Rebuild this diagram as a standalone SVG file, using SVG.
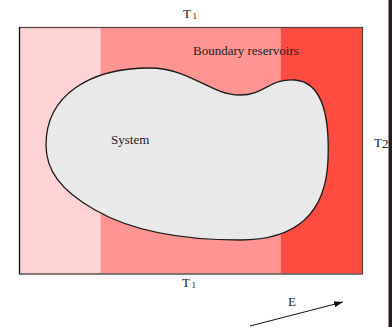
<svg xmlns="http://www.w3.org/2000/svg" width="392" height="327" viewBox="0 0 392 327">
<style>
.t{font-family:"Liberation Serif","Times New Roman",serif;font-size:13px;fill:#222}
.sub{font-size:9px}
</style>
<defs>
<marker id="ah" markerWidth="10" markerHeight="8" refX="9" refY="4" orient="auto" markerUnits="userSpaceOnUse">
<path d="M0,1 L9,4 L0,7 Z" fill="#111"/>
</marker>
</defs>
<rect width="392" height="327" fill="#fff"/>
<g id="reservoirs">
<rect x="19.5" y="27.5" width="81" height="246.5" fill="#FFD3D3"/>
<rect x="100.5" y="27.5" width="180" height="246.5" fill="#FF9490"/>
<rect x="280.5" y="27.5" width="82" height="246.5" fill="#FF4B40"/>
<rect x="19.5" y="27.5" width="343" height="246.5" fill="none" stroke="#5a4040" stroke-width="1.2"/>
<line x1="19.5" y1="27" x2="19.5" y2="274.5" stroke="#111" stroke-width="1.2"/>
<line x1="19" y1="274" x2="363" y2="274" stroke="#707070" stroke-width="1.2"/>
<text class="t" x="193" y="55">Boundary reservoirs</text>
</g>
<g id="system">
<path d="M46,145 C46,95 90,68 150,68 C190,68 210,95 240,95 C265,95 270,78 295,80 C320,82 330,110 328,160 C326,210 300,240 240,240 C180,240 130,230 95,210 C60,190 46,170 46,145 Z" fill="#E9E9E9" stroke="#1a1a1a" stroke-width="1.3"/>
<text class="t" x="111" y="144">System</text>
</g>
<g id="labels">
<text class="t" x="183" y="18">T<tspan class="sub" dx="1.5" dy="1">1</tspan></text>
<text class="t" x="182" y="287">T<tspan class="sub" dx="1.5" dy="1">1</tspan></text>
<text class="t" x="374" y="147">T<tspan dy="1">2</tspan></text>
<text class="t" x="288" y="306">E</text>
</g>
<g id="connectors">
<line x1="250" y1="326" x2="343" y2="302" stroke="#111" stroke-width="1" marker-end="url(#ah)"/>
</g>
<rect x="388.5" y="0" width="3.5" height="327" fill="#231f20"/>
</svg>
